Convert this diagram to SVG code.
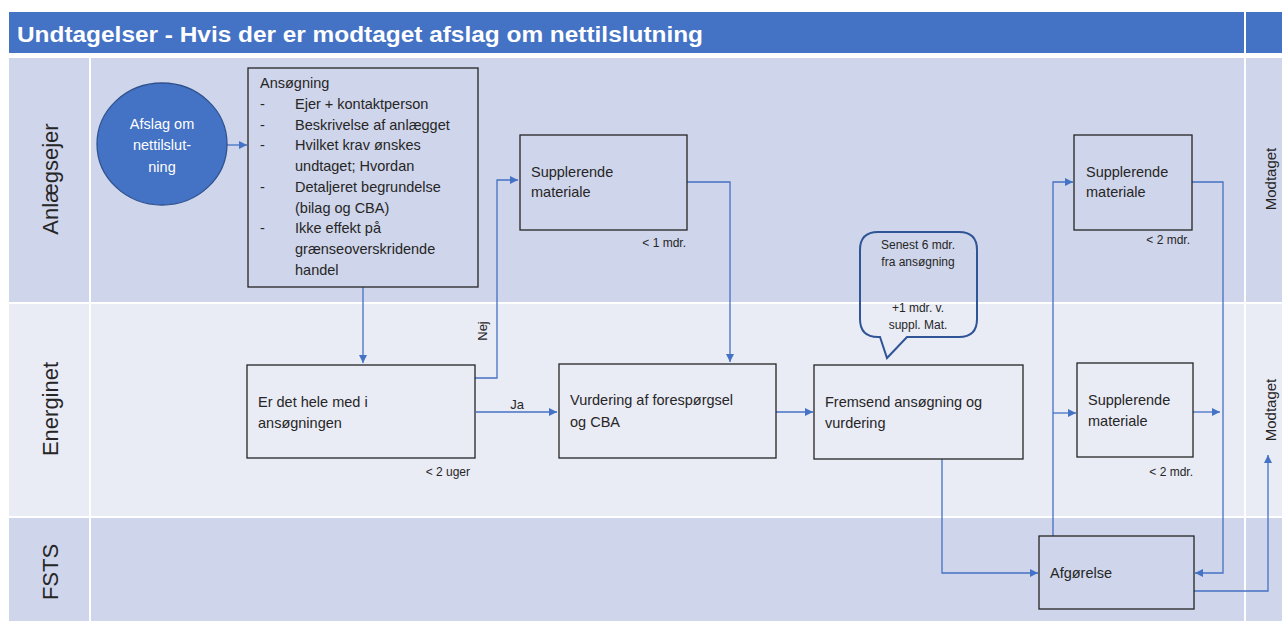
<svg xmlns="http://www.w3.org/2000/svg" width="1282" height="621" viewBox="0 0 1282 621">
<style>
text{font-family:"Liberation Sans",Arial,sans-serif;fill:#262626}
.box{fill:none;stroke:#262626;stroke-width:1.3}
.t{font-size:14.5px}
.s{font-size:12px}
.lane{font-size:22px}
.mod{font-size:15px}
.c{fill:none;stroke:#4472C4;stroke-width:1.3;marker-end:url(#ah)}
</style>
<defs>
<marker id="ah" viewBox="0 0 10 10" refX="10" refY="5" markerWidth="9" markerHeight="8" markerUnits="userSpaceOnUse" orient="auto">
<path d="M0,0 L10,5 L0,10 z" fill="#4472C4"/>
</marker>
</defs>
<rect width="1282" height="621" fill="#ffffff"/>
<g id="background">
<rect x="9" y="12" width="1273" height="41" fill="#4472C4"/>
<rect x="9" y="58" width="1273" height="244" fill="#CFD5EA"/>
<rect x="9" y="304" width="1273" height="212" fill="#E9EBF5"/>
<rect x="9" y="518" width="1273" height="103" fill="#CFD5EA"/>
<line x1="90" y1="58" x2="90" y2="621" stroke="#ffffff" stroke-width="2"/>
<line x1="1245" y1="12" x2="1245" y2="621" stroke="#ffffff" stroke-width="2"/>
<text x="17" y="42" font-size="22" font-weight="bold" style="fill:#ffffff" textLength="686" lengthAdjust="spacingAndGlyphs">Undtagelser - Hvis der er modtaget afslag om nettilslutning</text>
<text class="lane" transform="translate(58,179) rotate(-90)" text-anchor="middle">Anlægsejer</text>
<text class="lane" transform="translate(58,409) rotate(-90)" text-anchor="middle">Energinet</text>
<text class="lane" transform="translate(58,572) rotate(-90)" text-anchor="middle">FSTS</text>
<text class="mod" transform="translate(1276,179) rotate(-90)" text-anchor="middle">Modtaget</text>
<text class="mod" transform="translate(1276,410) rotate(-90)" text-anchor="middle">Modtaget</text>
</g>
<g id="connectors">
<path class="c" d="M227,145 H247"/>
<path class="c" d="M363,287 V363"/>
<path class="c" d="M475,378 H497 V180 H518"/>
<path class="c" d="M476,412 H557"/>
<path class="c" d="M687,182 H730 V362"/>
<path class="c" d="M776,412 H813"/>
<path class="c" d="M942,459 V573 H1038"/>
<path class="c" d="M1053,536 V182 H1073"/>
<path class="c" d="M1053,413 H1076"/>
<path class="c" d="M1192,182 H1223 V573 H1195"/>
<path class="c" d="M1193,412 H1220"/>
<path class="c" d="M1194,591 H1268 V455"/>
<text transform="translate(487,331) rotate(-90)" text-anchor="middle" font-size="13">Nej</text>
<text x="517" y="409" text-anchor="middle" font-size="13">Ja</text>
</g>
<g id="afslag">
<ellipse cx="162" cy="144" rx="65" ry="61" fill="#4472C4" stroke="#2F528F" stroke-width="1.3"/>
<text class="t" x="162" y="129" text-anchor="middle" style="fill:#ffffff">Afslag om</text>
<text class="t" x="162" y="150" text-anchor="middle" style="fill:#ffffff">nettilslut-</text>
<text class="t" x="162" y="172" text-anchor="middle" style="fill:#ffffff">ning</text>
</g>
<g id="ansoegning">
<rect class="box" x="248" y="68" width="230" height="219"/>
<text class="t" x="260" y="88">Ansøgning</text>
<text class="t" x="260" y="109">-</text><text class="t" x="295" y="109">Ejer + kontaktperson</text>
<text class="t" x="260" y="130">-</text><text class="t" x="295" y="130">Beskrivelse af anlægget</text>
<text class="t" x="260" y="150">-</text><text class="t" x="295" y="150">Hvilket krav ønskes</text>
<text class="t" x="295" y="171">undtaget; Hvordan</text>
<text class="t" x="260" y="192">-</text><text class="t" x="295" y="192">Detaljeret begrundelse</text>
<text class="t" x="295" y="213">(bilag og CBA)</text>
<text class="t" x="260" y="233">-</text><text class="t" x="295" y="233">Ikke effekt på</text>
<text class="t" x="295" y="254">grænseoverskridende</text>
<text class="t" x="295" y="275">handel</text>
</g>
<g id="erdet">
<rect class="box" x="247" y="365" width="228" height="93"/>
<text class="t" x="258" y="407">Er det hele med i</text>
<text class="t" x="258" y="428">ansøgningen</text>
<text class="s" x="470" y="476" text-anchor="end">&lt; 2 uger</text>
</g>
<g id="supp1">
<rect class="box" x="520" y="135" width="167" height="95"/>
<text class="t" x="531" y="177">Supplerende</text>
<text class="t" x="531" y="197">materiale</text>
<text class="s" x="686" y="247" text-anchor="end">&lt; 1 mdr.</text>
</g>
<g id="vurdering">
<rect class="box" x="559" y="364" width="217" height="94"/>
<text class="t" x="570" y="405">Vurdering af forespørgsel</text>
<text class="t" x="570" y="427">og CBA</text>
</g>
<g id="callout">
<path d="M878,232 H959 Q977,232 977,250 V319 Q977,337 959,337 H907 L887,358 L880,337 H878 Q860,337 860,319 V250 Q860,232 878,232 Z" fill="none" stroke="#2F5597" stroke-width="2"/>
<text class="s" x="918" y="249" text-anchor="middle">Senest 6 mdr.</text>
<text class="s" x="918" y="266" text-anchor="middle">fra ansøgning</text>
<text class="s" x="918" y="312" text-anchor="middle">+1 mdr. v.</text>
<text class="s" x="918" y="329" text-anchor="middle">suppl. Mat.</text>
</g>
<g id="fremsend">
<rect class="box" x="814" y="365" width="209" height="94"/>
<text class="t" x="825" y="407">Fremsend ansøgning og</text>
<text class="t" x="825" y="428">vurdering</text>
</g>
<g id="supp2">
<rect class="box" x="1074" y="135" width="118" height="95"/>
<text class="t" x="1086" y="177">Supplerende</text>
<text class="t" x="1086" y="197">materiale</text>
<text class="s" x="1190" y="244" text-anchor="end">&lt; 2 mdr.</text>
</g>
<g id="supp3">
<rect class="box" x="1077" y="363" width="116" height="94"/>
<text class="t" x="1088" y="405">Supplerende</text>
<text class="t" x="1088" y="426">materiale</text>
<text class="s" x="1193" y="476" text-anchor="end">&lt; 2 mdr.</text>
</g>
<g id="afgoerelse">
<rect class="box" x="1039" y="536" width="155" height="73"/>
<text class="t" x="1050" y="578">Afgørelse</text>
</g>
</svg>
